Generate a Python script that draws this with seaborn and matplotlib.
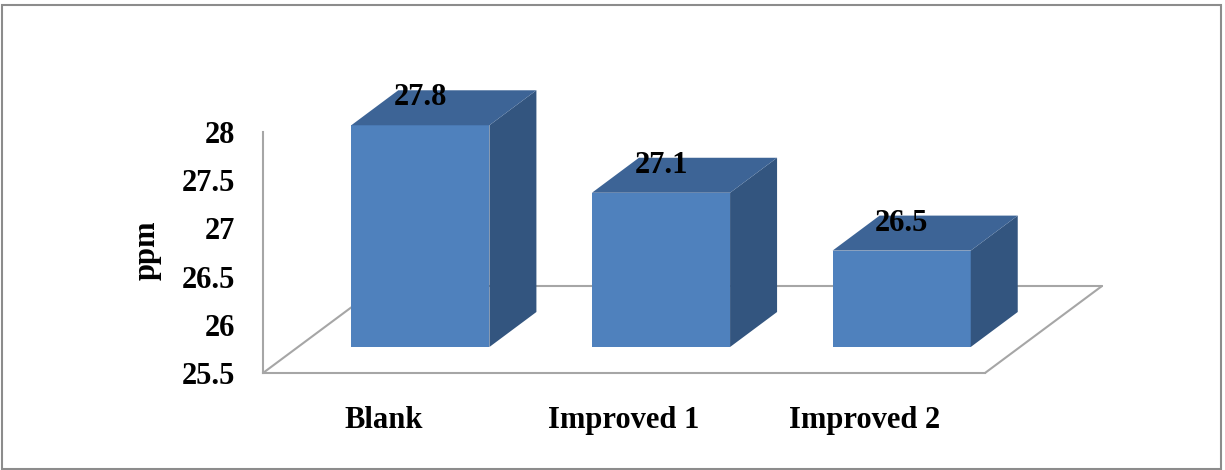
import numpy as np
import pandas as pd
import seaborn as sns
import matplotlib
matplotlib.use("Agg")
import matplotlib.pyplot as plt
from matplotlib import transforms
from matplotlib.patches import Polygon, Rectangle
from matplotlib.lines import Line2D

# data
categories = ["Blank", "Improved 1", "Improved 2"]
values = [27.8, 27.1, 26.5]
y_ticks = [25.5, 26, 26.5, 27, 27.5, 28]

# colours of the 3D bar faces
front_col = "#4F81BD"
top_col = "#3D6496"
side_col = "#33557F"
line_col = "#A6A6A6"

sns.set_style("white")
plt.rcParams['font.family'] = ['Liberation Serif', 'DejaVu Serif']
plt.rcParams['font.weight'] = 'bold'
plt.rcParams['text.color'] = 'black'
plt.rcParams['axes.labelcolor'] = 'black'
plt.rcParams['xtick.color'] = 'black'
plt.rcParams['ytick.color'] = 'black'

DPI = 100
FS = 22
fig = plt.figure(figsize=(12.25, 4.7), dpi=DPI)
ax = fig.add_axes([263 / 1225, 97 / 470, 722 / 1225, 241 / 470])

df = pd.DataFrame({"cat": categories, "ppm": values})
sns.barplot(data=df, x="cat", y="ppm", color=front_col, saturation=1,
            width=0.574, ax=ax, zorder=2)

ax.set_xlim(-0.5, 2.5)
ax.set_ylim(y_ticks[0], y_ticks[-1])
ax.set_yticks(y_ticks)
ax.set_yticklabels([f"{t:g}" for t in y_ticks])
ax.set_xlabel("")
ax.set_ylabel("ppm", fontsize=FS, fontweight="bold")
ax.yaxis.set_label_coords(-0.14, 0.51)
ax.tick_params(axis="y", length=0, labelsize=FS, pad=20)
ax.tick_params(axis="x", length=0, labelsize=FS, pad=24)
for lab in ax.get_xticklabels() + ax.get_yticklabels():
    lab.set_fontweight("bold")

for s in ["top", "right"]:
    ax.spines[s].set_visible(False)
for s in ["left", "bottom"]:
    ax.spines[s].set_color(line_col)
    ax.spines[s].set_linewidth(1.5)
    ax.spines[s].set_zorder(0.5)

# pseudo-3D: push the bars back into the floor and extrude them
bar_shift = (37, 26)     # px, front face relative to floor front
bar_depth = (47, 35)     # px, depth of each bar
floor_depth = (117, 87)  # px, depth of the floor

shift = transforms.ScaledTranslation(bar_shift[0] / DPI, bar_shift[1] / DPI,
                                     fig.dpi_scale_trans)
ident = transforms.IdentityTransform()

# floor outline (back edge and slanted sides)
p0 = ax.transAxes.transform((0, 0))
p1 = ax.transAxes.transform((1, 0))
fx, fy = floor_depth
for xs, ys in [([p0[0], p0[0] + fx], [p0[1], p0[1] + fy]),
               ([p1[0], p1[0] + fx], [p1[1], p1[1] + fy]),
               ([p0[0] + fx, p1[0] + fx], [p0[1] + fy, p1[1] + fy])]:
    ax.add_artist(Line2D(xs, ys, transform=ident, color=line_col,
                         linewidth=1.5, zorder=0.5, clip_on=False))

dx, dy = bar_depth
for patch, v in zip(ax.patches, values):
    patch.set_y(y_ticks[0])
    patch.set_height(v - y_ticks[0])
    patch.set_transform(ax.transData + shift)
    patch.set_clip_on(False)
    patch.set_edgecolor("none")

    x0 = patch.get_x()
    x1 = x0 + patch.get_width()
    (ax0, ay0), (ax1, ay1) = (ax.transData + shift).transform(
        [(x0, y_ticks[0]), (x1, v)])
    side = [(ax1, ay0), (ax1 + dx, ay0 + dy), (ax1 + dx, ay1 + dy), (ax1, ay1)]
    top = [(ax0, ay1), (ax1, ay1), (ax1 + dx, ay1 + dy), (ax0 + dx, ay1 + dy)]
    ax.add_artist(Polygon(side, closed=True, transform=ident, facecolor=side_col,
                          edgecolor="none", zorder=2, clip_on=False))
    ax.add_artist(Polygon(top, closed=True, transform=ident, facecolor=top_col,
                          edgecolor="none", zorder=2, clip_on=False))

# value labels
for i, v in enumerate(values):
    ax.annotate(f"{v}", xy=(i, v), xytext=(37, 46), textcoords="offset pixels",
                ha="center", va="baseline", fontsize=FS, fontweight="bold",
                zorder=5, annotation_clip=False)

# outer chart border
fig.add_artist(Rectangle((2 / 1225, 1 / 470), 1219 / 1225, 464 / 470,
                         transform=fig.transFigure, fill=False,
                         edgecolor="#8C8C8C", linewidth=1.5))

fig.savefig("out.png", dpi=DPI)
